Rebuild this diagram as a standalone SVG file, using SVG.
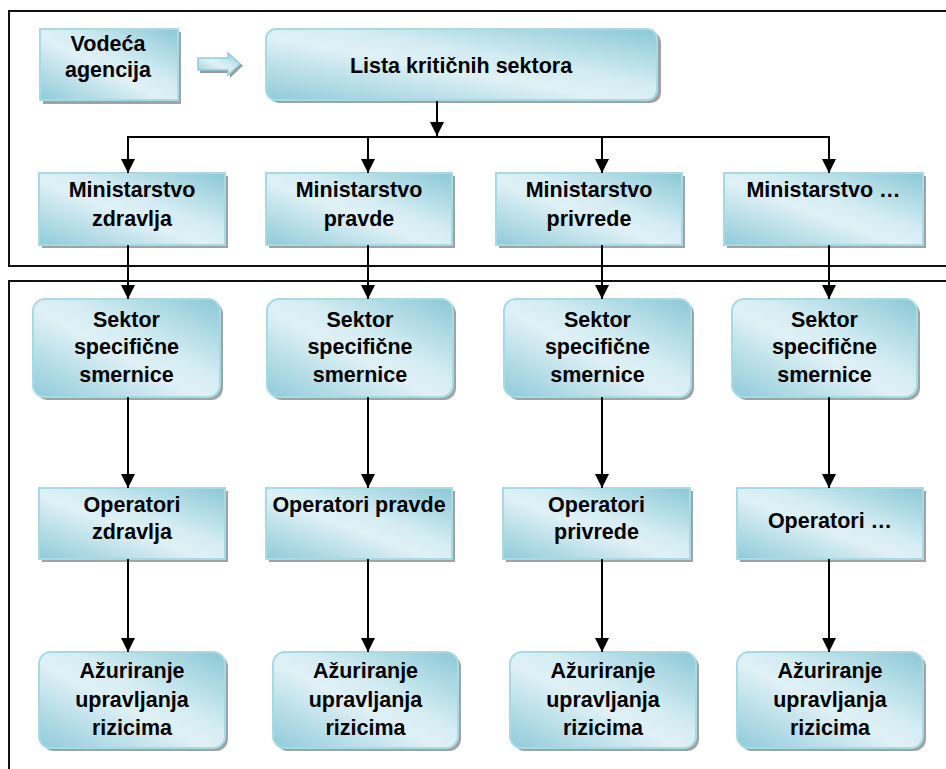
<svg xmlns="http://www.w3.org/2000/svg" width="946" height="769" viewBox="0 0 946 769">
<defs>
<linearGradient id="g" x1="0" y1="1" x2="1" y2="0">
<stop offset="0" stop-color="#8fcbd9"/>
<stop offset="0.45" stop-color="#e0f1f6"/>
<stop offset="0.6" stop-color="#d3ecf2"/>
<stop offset="1" stop-color="#8ac8d6"/>
</linearGradient>
<marker id="ah" markerUnits="userSpaceOnUse" markerWidth="15" markerHeight="15" refX="14" refY="7" orient="auto">
<path d="M0,0 L14,7 L0,14 z" fill="#000"/>
</marker>
</defs>
<style>
.box{fill:url(#g);stroke:#a6dbe6;stroke-width:2}
.sh{fill:#a2a2a2}
.t{font-family:"Liberation Sans",Arial,sans-serif;font-weight:bold;font-size:21.5px;fill:#000;text-anchor:middle}
.c{fill:none;stroke:#000;stroke-width:2}
.a{fill:none;stroke:#000;stroke-width:2;marker-end:url(#ah)}
.fr{fill:none;stroke:#111;stroke-width:2}
</style>
<rect width="946" height="769" fill="#fff"/>
<g id="frames">
<path class="fr" d="M950,11 L9,11 L9,266 L950,266"/>
<path class="fr" d="M950,281 L9,281 L9,775"/>
</g>
<g id="vodeca">
<rect class="sh" x="43" y="32" width="138" height="72"/>
<rect class="box" x="40" y="29" width="138" height="71"/>
<text class="t" x="108" y="51">Vodeća</text>
<text class="t" x="108" y="77">agencija</text>
</g>
<g id="block-arrow">
<path d="M200,61 L230,61 L230,56 L243,65.5 L230,78 L230,73 L200,73 z" fill="#9a9a9a"/>
<path d="M198,58 L228,58 L228,53 L240,64 L228,75 L228,70 L198,70 z" fill="url(#g)" stroke="#8fcfdc" stroke-width="1.5"/>
</g>
<g id="lista">
<rect class="sh" x="269" y="32" width="392" height="71" rx="10"/>
<rect class="box" x="266" y="29" width="391" height="71" rx="10"/>
<text class="t" x="461" y="73">Lista kritičnih sektora</text>
</g>
<g id="min1">
<rect class="sh" x="42" y="176" width="186" height="72"/>
<rect class="box" x="39" y="173" width="186" height="72"/>
<text class="t" x="132" y="197">Ministarstvo</text>
<text class="t" x="132" y="226">zdravlja</text>
</g>
<g id="min2">
<rect class="sh" x="269" y="176" width="186" height="72"/>
<rect class="box" x="266" y="173" width="186" height="72"/>
<text class="t" x="359" y="197">Ministarstvo</text>
<text class="t" x="359" y="226">pravde</text>
</g>
<g id="min3">
<rect class="sh" x="499" y="176" width="186" height="72"/>
<rect class="box" x="496" y="173" width="186" height="72"/>
<text class="t" x="589" y="197">Ministarstvo</text>
<text class="t" x="589" y="226">privrede</text>
</g>
<g id="min4">
<rect class="sh" x="727" y="176" width="199" height="72"/>
<rect class="box" x="724" y="173" width="199" height="72"/>
<text class="t" x="823.5" y="197">Ministarstvo …</text>
</g>
<g id="sek1">
<rect class="sh" x="36" y="302" width="187" height="98" rx="12"/>
<rect class="box" x="33" y="299" width="187" height="98" rx="12"/>
<text class="t" x="126.5" y="327">Sektor</text>
<text class="t" x="126.5" y="354">specifične</text>
<text class="t" x="126.5" y="382">smernice</text>
</g>
<g id="sek2">
<rect class="sh" x="270" y="302" width="186" height="98" rx="12"/>
<rect class="box" x="267" y="299" width="186" height="98" rx="12"/>
<text class="t" x="360" y="327">Sektor</text>
<text class="t" x="360" y="354">specifične</text>
<text class="t" x="360" y="382">smernice</text>
</g>
<g id="sek3">
<rect class="sh" x="507" y="302" width="187" height="98" rx="12"/>
<rect class="box" x="504" y="299" width="187" height="98" rx="12"/>
<text class="t" x="597.5" y="327">Sektor</text>
<text class="t" x="597.5" y="354">specifične</text>
<text class="t" x="597.5" y="382">smernice</text>
</g>
<g id="sek4">
<rect class="sh" x="735" y="302" width="185" height="98" rx="12"/>
<rect class="box" x="732" y="299" width="185" height="98" rx="12"/>
<text class="t" x="824.5" y="327">Sektor</text>
<text class="t" x="824.5" y="354">specifične</text>
<text class="t" x="824.5" y="382">smernice</text>
</g>
<g id="op1">
<rect class="sh" x="42" y="491" width="186" height="71"/>
<rect class="box" x="39" y="488" width="186" height="71"/>
<text class="t" x="132" y="512">Operatori</text>
<text class="t" x="132" y="539">zdravlja</text>
</g>
<g id="op2">
<rect class="sh" x="269" y="491" width="186" height="71"/>
<rect class="box" x="266" y="488" width="186" height="71"/>
<text class="t" x="359" y="512">Operatori pravde</text>
</g>
<g id="op3">
<rect class="sh" x="506" y="491" width="187" height="71"/>
<rect class="box" x="503" y="488" width="187" height="71"/>
<text class="t" x="596.5" y="512">Operatori</text>
<text class="t" x="596.5" y="539">privrede</text>
</g>
<g id="op4">
<rect class="sh" x="740" y="491" width="186" height="71"/>
<rect class="box" x="737" y="488" width="186" height="71"/>
<text class="t" x="830" y="528">Operatori …</text>
</g>
<g id="az1">
<rect class="sh" x="42" y="655" width="186" height="96" rx="12"/>
<rect class="box" x="39" y="652" width="186" height="96" rx="12"/>
<text class="t" x="132" y="678">Ažuriranje</text>
<text class="t" x="132" y="707">upravljanja</text>
<text class="t" x="132" y="735">rizicima</text>
</g>
<g id="az2">
<rect class="sh" x="276" y="655" width="185" height="96" rx="12"/>
<rect class="box" x="273" y="652" width="185" height="96" rx="12"/>
<text class="t" x="365.5" y="678">Ažuriranje</text>
<text class="t" x="365.5" y="707">upravljanja</text>
<text class="t" x="365.5" y="735">rizicima</text>
</g>
<g id="az3">
<rect class="sh" x="513" y="655" width="186" height="96" rx="12"/>
<rect class="box" x="510" y="652" width="186" height="96" rx="12"/>
<text class="t" x="603" y="678">Ažuriranje</text>
<text class="t" x="603" y="707">upravljanja</text>
<text class="t" x="603" y="735">rizicima</text>
</g>
<g id="az4">
<rect class="sh" x="740" y="655" width="186" height="96" rx="12"/>
<rect class="box" x="737" y="652" width="186" height="96" rx="12"/>
<text class="t" x="830" y="678">Ažuriranje</text>
<text class="t" x="830" y="707">upravljanja</text>
<text class="t" x="830" y="735">rizicima</text>
</g>
<g id="connectors">
<line class="a" x1="437" y1="101" x2="437" y2="136"/>
<line class="c" x1="127" y1="137" x2="830" y2="137"/>
<line class="a" x1="128" y1="137" x2="128" y2="173"/>
<line class="a" x1="368" y1="137" x2="368" y2="173"/>
<line class="a" x1="602" y1="137" x2="602" y2="173"/>
<line class="a" x1="829" y1="137" x2="829" y2="173"/>
<line class="a" x1="128" y1="245" x2="128" y2="299"/>
<line class="a" x1="368" y1="245" x2="368" y2="299"/>
<line class="a" x1="602" y1="245" x2="602" y2="299"/>
<line class="a" x1="829" y1="245" x2="829" y2="299"/>
<line class="a" x1="128" y1="397" x2="128" y2="488"/>
<line class="a" x1="368" y1="397" x2="368" y2="488"/>
<line class="a" x1="602" y1="397" x2="602" y2="488"/>
<line class="a" x1="829" y1="397" x2="829" y2="488"/>
<line class="a" x1="128" y1="559" x2="128" y2="652"/>
<line class="a" x1="368" y1="559" x2="368" y2="652"/>
<line class="a" x1="602" y1="559" x2="602" y2="652"/>
<line class="a" x1="829" y1="559" x2="829" y2="652"/>
</g>
</svg>
